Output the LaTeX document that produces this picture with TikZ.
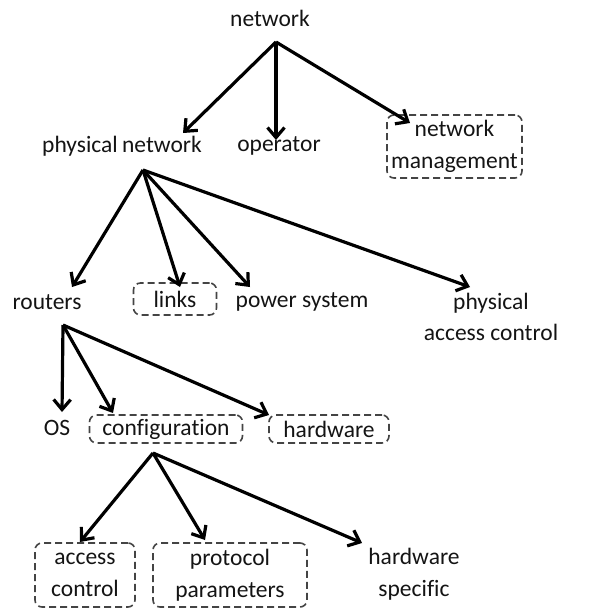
\documentclass[tikz,border=0pt]{standalone}
\usepackage{fontspec}
\setmainfont{Carlito}[Ligatures={NoCommon}]
\usetikzlibrary{arrows.meta}
\definecolor{boxgray}{HTML}{444444}
\definecolor{txt}{HTML}{141414}
\tikzset{
  lbl/.style={text=txt, inner sep=0pt, align=center, font=\fontsize{23.5}{31.5}\selectfont},
  dbox/.style={lbl, draw=boxgray, dash pattern=on 7pt off 4pt, line width=1.6pt, rounded corners=7pt},
  arr/.style={line width=3.2pt, -{Straight Barb[length=10pt,width=17pt,line width=3.2pt]}}
}
\begin{document}
\begin{tikzpicture}[x=1pt,y=-1pt]
\useasboundingbox (0,0) rectangle (598,611);
% nodes
\node[lbl] (net) at (270,18) {network};
\node[lbl] (pn) at (122,146) {physical\hspace{-1pt} network};
\node[lbl] (op) at (279,146) {operator};
\node[dbox, minimum width=135pt, minimum height=63pt] (nm) at (454.5,146.5) {network\\management};
\node[lbl] (rt) at (47,302) {routers};
\node[dbox, minimum width=83pt, minimum height=32pt] (lk) at (175,299) {links};
\node[lbl] (ps) at (302,302) {power system};
\node[lbl] (pac) at (491,317) {physical\\access control};
\node[lbl] (os) at (57,428) {OS};
\node[dbox, minimum width=153pt, minimum height=28pt] (cf) at (166,429) {configuration};
\node[dbox, minimum width=120pt, minimum height=28pt] (hw) at (329,429) {hardware};
\node[dbox, minimum width=100pt, minimum height=64pt] (ac) at (85,575) {access\\control};
\node[dbox, minimum width=154pt, minimum height=64pt] (pp) at (230,575) {protocol\\parameters};
\node[lbl] (hs) at (414,574) {hardware\\specific};
% arrow origins
\coordinate (o1) at (276,42);
\coordinate (o2) at (143,170);
\coordinate (o3) at (63,325);
\coordinate (o4) at (153,453);
% arrow targets
\coordinate (tpn) at (183,133);
\coordinate (top) at (276,140);
\coordinate (tnm) at (410,123);
\coordinate (trt) at (72,287);
\coordinate (tlk) at (180,287);
\coordinate (tps) at (250,287);
\coordinate (tpac) at (470,287);
\coordinate (tos) at (62,412);
\coordinate (tcf) at (113,413);
\coordinate (thw) at (269,415);
\coordinate (tac) at (80,542);
\coordinate (tpp) at (205,540);
\coordinate (ths) at (362,543);
% connectors
\draw[arr] (o1) -- (tpn);
\draw[arr] (o1) -- (top);
\draw[arr] (o1) -- (tnm);
\draw[arr] (o2) -- (trt);
\draw[arr] (o2) -- (tlk);
\draw[arr] (o2) -- (tps);
\draw[arr] (o2) -- (tpac);
\draw[arr] (o3) -- (tos);
\draw[arr] (o3) -- (tcf);
\draw[arr] (o3) -- (thw);
\draw[arr] (o4) -- (tac);
\draw[arr] (o4) -- (tpp);
\draw[arr] (o4) -- (ths);
\end{tikzpicture}
\end{document}
